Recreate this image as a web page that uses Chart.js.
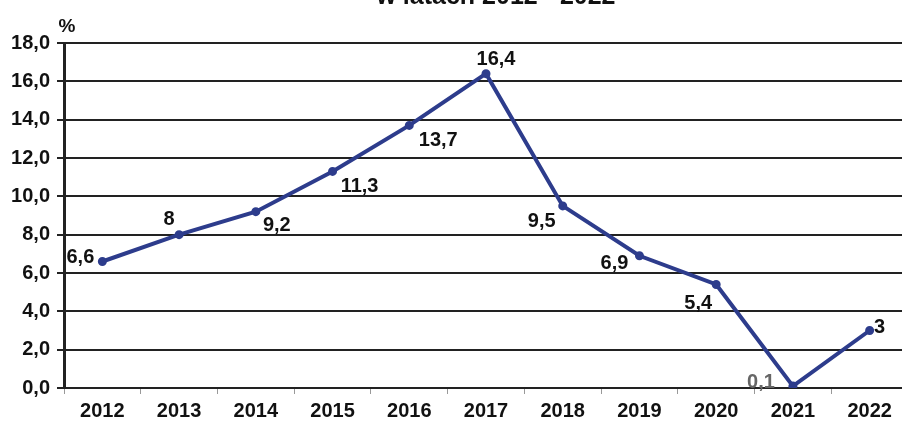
<!DOCTYPE html>
<html>
<head>
<meta charset="utf-8">
<script src="https://cdn.jsdelivr.net/npm/chart.js@4"></script>
<style>
body{margin:0;background:#fff;}
#wrap{width:902px;height:421px;overflow:hidden;}
</style>
</head>
<body>
<div id="wrap"><canvas id="myChart" width="916" height="421"></canvas></div>
<script>
var years = ['2012', '2013', '2014', '2015', '2016', '2017', '2018', '2019', '2020', '2021', '2022'];
var values = [6.6, 8, 9.2, 11.3, 13.7, 16.4, 9.5, 6.9, 5.4, 0.1, 3];
var valueLabels = ['6,6', '8', '9,2', '11,3', '13,7', '16,4', '9,5', '6,9', '5,4', '0,1', '3'];
var yTicks = [0, 2, 4, 6, 8, 10, 12, 14, 16, 18];
var titleText = 'w latach 2012 - 2022';
var unitText = '%';

// where each value label sits next to its point (dx, dy)
var labelOffsets = [[-22,-4],[-10,-15],[21,14],[27,15],[29,15],[10,-14],[-21,16],[-25,8],[-18,19],[-32,-4],[10,-3]];
var labelColors = ['#111','#111','#111','#111','#111','#111','#111','#111','#111','#666','#111'];

var fontFam = '"Liberation Sans", Arial, sans-serif';

var extraText = {
	id: 'extraText',
	afterDatasetsDraw: function(chart) {
		var ctx = chart.ctx;
		var meta = chart.getDatasetMeta(0);
		ctx.save();
		ctx.font = 'bold 20px ' + fontFam;
		ctx.textAlign = 'center';
		ctx.textBaseline = 'middle';
		meta.data.forEach(function(pt, i) {
			ctx.fillStyle = labelColors[i];
			ctx.fillText(valueLabels[i], pt.x + labelOffsets[i][0], pt.y + labelOffsets[i][1]);
		});
		ctx.fillStyle = '#111';
		ctx.textBaseline = 'alphabetic';
		ctx.font = 'bold 25px ' + fontFam;
		ctx.fillText(titleText, 496, 4);
		ctx.font = 'bold 19px ' + fontFam;
		ctx.fillText(unitText, 67, 32);
		ctx.restore();
	}
};

var ctx = document.getElementById('myChart');

var lineGraph = new Chart(ctx, {
	type: 'line',
	data: {
		labels: years,
		datasets: [{
			data: values,
			borderColor: '#2d3c8c',
			backgroundColor: '#2d3c8c',
			borderWidth: 4,
			pointRadius: 2.5,
			pointBackgroundColor: '#2d3c8c',
			tension: 0
		}]
	},
	plugins: [extraText],
	options: {
		responsive: false,
		animation: false,
		layout: { padding: { top: 43, right: 2, left: 0, bottom: 0 } },
		plugins: {
			legend: { display: false },
			tooltip: { enabled: false }
		},
		scales: {
			x: {
				offset: true,
				grid: { offset: true, drawOnChartArea: false, tickLength: 6, color: '#999', lineWidth: 1 },
				border: { color: '#222', width: 2 },
				ticks: { color: '#111', padding: 5, maxRotation: 0, font: { family: fontFam, size: 20, weight: 'bold' } },
				afterFit: function(s) { s.height = 33; }
			},
			y: {
				min: 0,
				max: 18,
				afterBuildTicks: function(s) { s.ticks = yTicks.map(function(v) { return { value: v }; }); },
				grid: { color: '#222', lineWidth: 2, tickLength: 7 },
				border: { color: '#222', width: 3 },
				ticks: {
					color: '#111', padding: 7,
					font: { family: fontFam, size: 20, weight: 'bold' },
					callback: function(v) { return v.toFixed(1).replace('.', ','); }
				},
				afterFit: function(s) { s.width = 64; }
			}
		}
	}
});
</script>
</body>
</html>
